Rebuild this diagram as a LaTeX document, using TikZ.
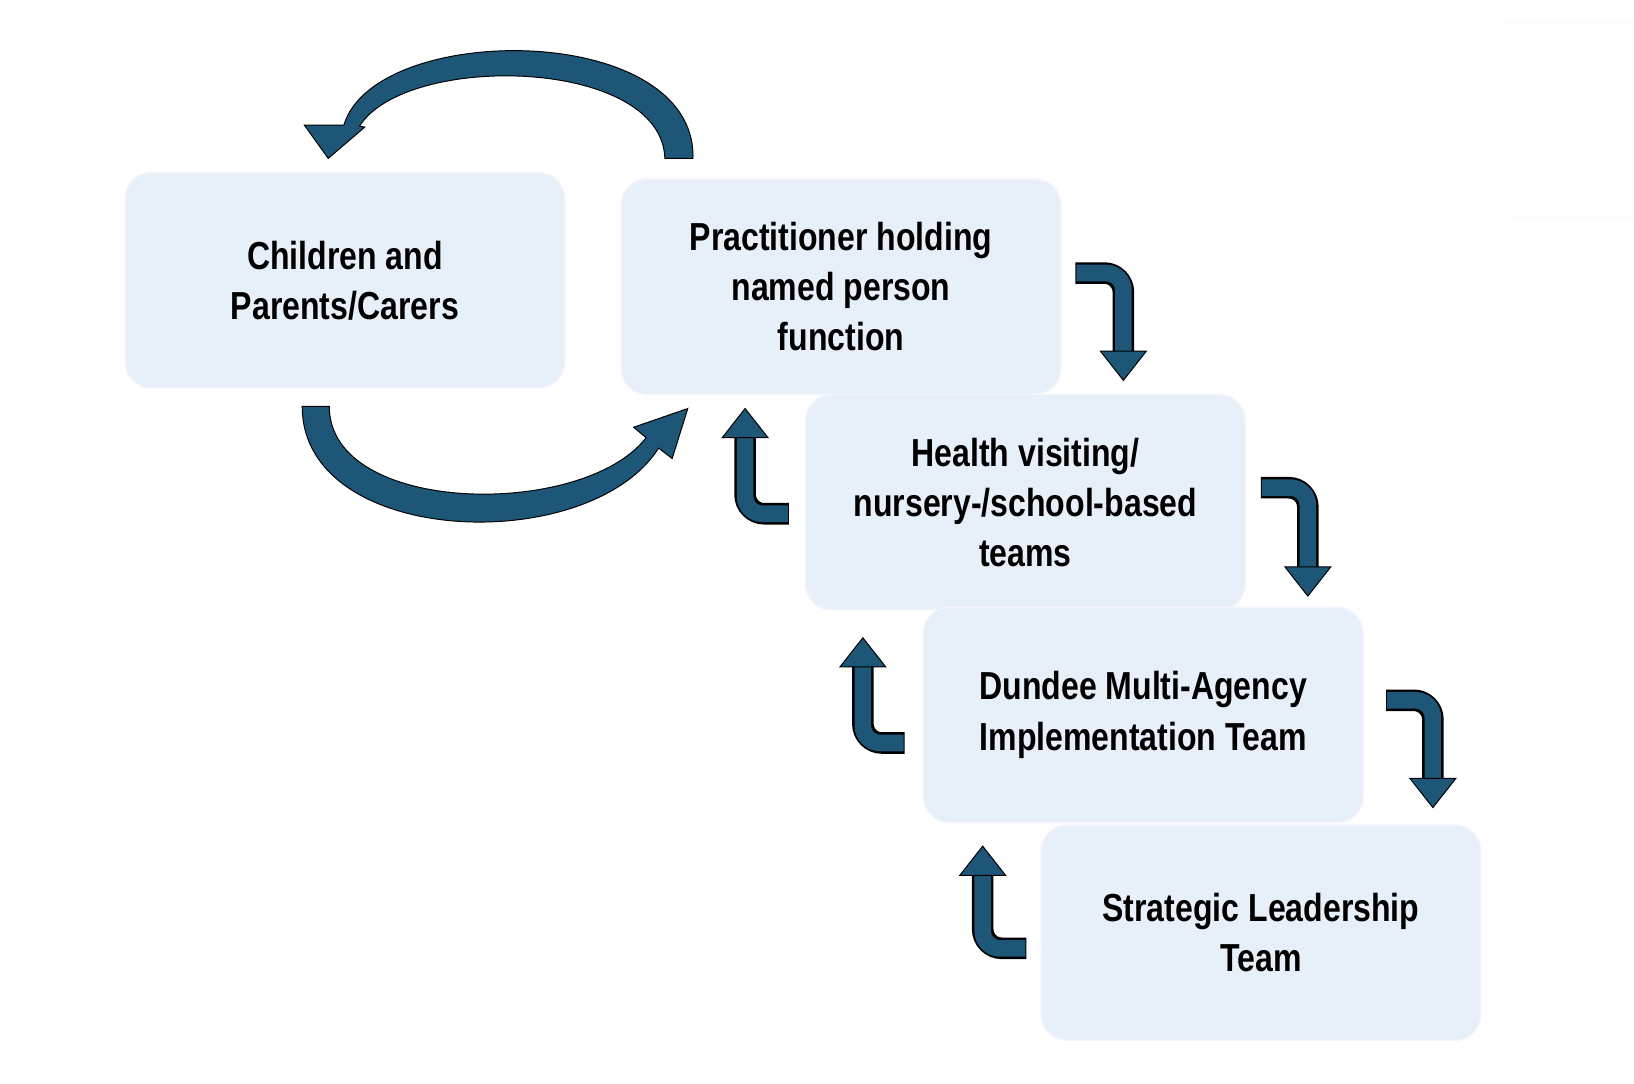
\documentclass[tikz,border=0pt]{standalone}
\usepackage{fontspec}
\setmainfont{Liberation Sans}[FakeStretch=0.82]
\begin{document}
\begin{tikzpicture}[x=0.03cm,y=-0.03cm,
  box/.style={draw=white!85!blue!30,line width=1.2pt,fill=boxc,rounded corners=0.75cm,minimum width=12.66cm,minimum height=6.2cm,align=center,font=\bfseries\fontsize{32}{41}\selectfont},
  elb/.style={line width=0.62cm,draw=black,rounded corners=0.55cm},
  elbi/.style={line width=0.48cm,draw=arr,rounded corners=0.5cm},
  hd/.style={fill=arr,draw=black,line width=0.8pt}]
\definecolor{boxc}{HTML}{E7EFF8}
\definecolor{arr}{HTML}{1D5677}
\path[use as bounding box] (0,0) rectangle (1568,1040);
\fill[white!93!blue!12,rounded corners=1cm] (1420,20) rectangle (1600,210);
\node[box] (a) at (331,269) {Children and\\Parents/Carers};
\node[box] (b) at (807,275) {Practitioner holding\\named person\\function};
\node[box] (c) at (984,482) {Health visiting/\\nursery-/school-based\\teams};
\node[box] (d) at (1097,686) {Dundee Multi-Agency\\Implementation Team};
\node[box] (e) at (1210,895) {Strategic Leadership\\Team};
% right elbows
\foreach \sx/\sy/\cx/\ty in {1032/262/1078/365, 1210/468/1255/572, 1330/672/1375/775}{
  \draw[elb] (\sx,\sy) -- (\cx,\sy) -- (\cx,\ty-27);
  \draw[elbi] (\sx+1,\sy) -- (\cx,\sy) -- (\cx,\ty-26);
  \draw[hd] (\cx-22,\ty-28) -- (\cx+22,\ty-28) -- (\cx,\ty) -- cycle;
}
% left elbows
\foreach \sx/\sy/\cx/\ty in {757/493/715/392, 868/713/828/612, 985/910/943/812}{
  \draw[elb] (\sx,\sy) -- (\cx,\sy) -- (\cx,\ty+27);
  \draw[elbi] (\sx-1,\sy) -- (\cx,\sy) -- (\cx,\ty+26);
  \draw[hd] (\cx-22,\ty+28) -- (\cx+22,\ty+28) -- (\cx,\ty) -- cycle;
}
\coordinate (t1) at (665,152);
\coordinate (t2) at (315,152);
\draw[hd] (t1) .. controls (668,20) and (360,20) .. (330,120) -- (292,120) -- (t2) -- (350,122) -- (345,121) .. controls (390,50) and (635,55) .. (638,152) -- cycle;
\coordinate (b1) at (290,390);
\coordinate (b2) at (660,392);
\draw[hd] (b1) .. controls (290,525) and (565,535) .. (632,430) -- (645,440) -- (b2) -- (608,410) -- (620,420) .. controls (560,498) and (316,495) .. (316,390) -- cycle;
\end{tikzpicture}
\end{document}
